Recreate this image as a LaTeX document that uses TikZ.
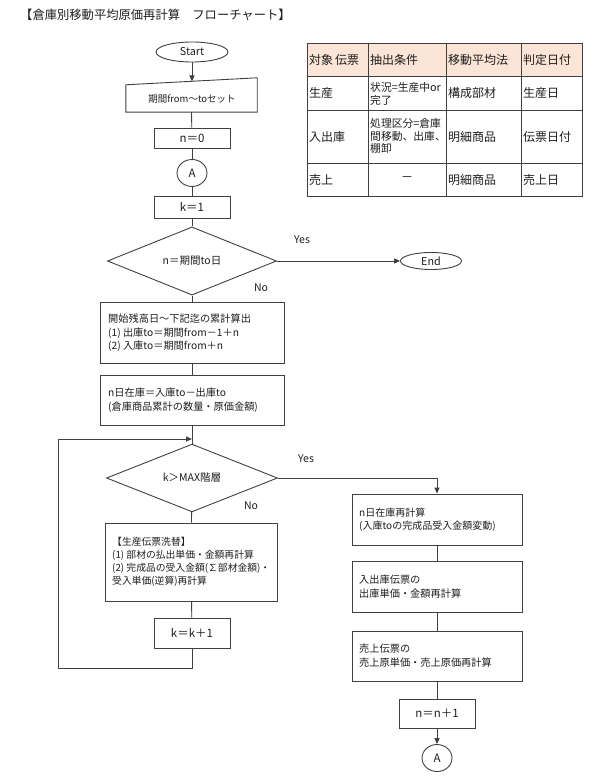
\documentclass[tikz,border=0pt]{standalone}
\usepackage{fontspec}
\setmainfont{Noto Sans CJK JP}
\usetikzlibrary{shapes.geometric,arrows.meta}
\definecolor{lc}{RGB}{64,64,64}
\definecolor{hdr}{RGB}{252,228,214}
\definecolor{tc}{RGB}{30,30,30}
\newcommand\myfs[2]{\fontsize{#1}{#2}\selectfont}
\begin{document}
\begin{tikzpicture}[x=1pt,y=-1pt,
  every node/.style={text=tc},
  ln/.style={draw=lc,line width=0.9pt},
  arr/.style={ln,-{Triangle[length=6pt,width=5pt]}},
  rbox/.style={ln,rectangle,inner sep=0pt,font=\myfs{11.5}{13}},
  term/.style={ln,ellipse,inner sep=0pt,font=\myfs{10.8}{12}},
  dec/.style={ln,diamond,inner sep=0pt,font=\myfs{10.5}{12}},
  txt/.style={anchor=west,align=left,inner sep=0pt,font=\myfs{10.2}{13.5}},
  lab/.style={inner sep=0pt,font=\myfs{10.5}{12}},
  tcell/.style={anchor=west,inner sep=0pt,font=\myfs{12}{14}},
  tcellm/.style={anchor=west,align=left,inner sep=0pt,font=\myfs{10.8}{12.5}}]
\useasboundingbox (0,0) rectangle (600,783);

% title
\node[anchor=west,inner sep=0pt,font=\myfs{12.3}{14}] (title) at (20,15) {【倉庫別移動平均原価再計算　フローチャート】};

% table
\fill[hdr] (307,43) rectangle (582,76);
\draw[ln] (307,43) rectangle (582,196);
\draw[ln] (307,76) -- (582,76) (307,110) -- (582,110) (307,163) -- (582,163);
\draw[ln] (368,43) -- (368,196) (446,43) -- (446,196) (521,43) -- (521,196);
\node[tcell] (h1) at (309,59.5) {対象\,伝票};
\node[tcell] (h2) at (370,59.5) {抽出条件};
\node[tcell] (h3) at (448,59.5) {移動平均法};
\node[tcell] (h4) at (523,59.5) {判定日付};
\node[tcell] (r11) at (309,93) {生産};
\node[tcellm] (r12) at (370,94) {状況=生産中or\\完了};
\node[tcell] (r13) at (448,93) {構成部材};
\node[tcell] (r14) at (523,93) {生産日};
\node[tcell] (r21) at (309,136.5) {入出庫};
\node[tcellm] (r22) at (370,136) {処理区分=倉庫\\間移動、出庫、\\棚卸};
\node[tcell] (r23) at (448,136.5) {明細商品};
\node[tcell] (r24) at (523,136.5) {伝票日付};
\node[tcell] (r31) at (309,179.5) {売上};
\node[inner sep=0pt,font=\myfs{12}{14}] (r32) at (407,179.5) {－};
\node[tcell] (r33) at (448,179.5) {明細商品};
\node[tcell] (r34) at (523,179.5) {売上日};

% flowchart left column
\node[term,minimum width=72pt,minimum height=20pt] (start) at (192,52) {Start};
\node[rectangle,inner sep=0pt,minimum width=131pt,minimum height=34pt] (input) at (191.5,95) {};
\draw[ln] (input.south west) -- (input.south east) -- (input.north east) -- ([yshift=-7pt]input.north west) -- cycle;
\node[inner sep=0pt,font=\myfs{9.5}{12}] (inputtxt) at (192,99) {期間from～toセット};
\coordinate (intop) at (192,81.5);
\node[rbox,minimum width=76pt,minimum height=20pt] (n0) at (192,138) {n＝0};
\node[term,minimum width=30pt,minimum height=27pt,font=\myfs{11.5}{13}] (A1) at (192,173) {A};
\node[rbox,minimum width=76pt,minimum height=22pt] (k1) at (192,207) {k＝1};
\node[dec,minimum width=169pt,minimum height=57pt] (d1) at (192,261) {n＝期間to日};
\node[term,minimum width=61pt,minimum height=17pt] (end) at (431,261) {End};
\node[lab] (yes1) at (302,240) {Yes};
\node[lab] (no1) at (261,288) {No};

\node[rbox,minimum width=184pt,minimum height=61pt] (box1) at (192,332.5) {};
\node[txt] (box1t) at (108,333) {開始残高日～下記迄の累計算出\\(1) 出庫to＝期間from－1＋n\\(2) 入庫to＝期間from＋n};
\node[rbox,minimum width=184pt,minimum height=50pt] (box2) at (192,400) {};
\node[txt] (box2t) at (108,400) {n日在庫＝入庫to－出庫to\\(倉庫商品累計の数量・原価金額)};

\node[dec,minimum width=171pt,minimum height=58pt] (d2) at (192,478) {k＞MAX階層};
\node[lab] (yes2) at (306,459) {Yes};
\node[lab] (no2) at (251,506) {No};

\node[rbox,minimum width=172pt,minimum height=78pt] (box3) at (191,562) {};
\node[txt,font=\myfs{9.8}{13}] (box3t) at (112,562) {【生産伝票洗替】\\(1) 部材の払出単価・金額再計算\\(2) 完成品の受入金額(∑部材金額)・\\受入単価(逆算)再計算};
\node[rbox,minimum width=76pt,minimum height=30pt] (kk) at (192,633) {k＝k＋1};

\coordinate (lp1) at (192,668);
\coordinate (lp2) at (58,668);
\coordinate (lp3) at (58,439);
\coordinate (lp4) at (192,439);

% right column
\node[rbox,minimum width=170pt,minimum height=51pt] (box4) at (437,519.5) {};
\node[txt,font=\myfs{10}{13}] (box4t) at (359,519.5) {n日在庫再計算\\(入庫toの完成品受入金額変動)};
\node[rbox,minimum width=170pt,minimum height=51pt] (box5) at (437,586.5) {};
\node[txt,font=\myfs{10.2}{14}] (box5t) at (359,586.5) {入出庫伝票の\\出庫単価・金額再計算};
\node[rbox,minimum width=170pt,minimum height=50pt] (box6) at (437,656) {};
\node[txt,font=\myfs{10.2}{14}] (box6t) at (359,656) {売上伝票の\\売上原単価・売上原価再計算};
\node[rbox,minimum width=76pt,minimum height=29pt] (nn) at (437,713.5) {n＝n＋1};
\node[term,minimum width=30pt,minimum height=27pt,font=\myfs{11.5}{13}] (A2) at (437,758) {A};

% connectors
\draw[arr] (start) -- (intop);
\draw[ln] (input.south) -- (n0);
\draw[ln] (n0) -- (A1);
\draw[ln] (A1) -- (k1);
\draw[ln] (k1) -- (d1);
\draw[arr] (d1.east) -- (end.west);
\draw[ln] (d1) -- (box1);
\draw[ln] (box1) -- (box2);
\draw[ln] (box2) -- (d2);
\draw[ln] (d2) -- (box3);
\draw[ln] (box3) -- (kk);
\draw[arr] (kk.south) -- (lp1) -- (lp2) -- (lp3) -- (lp4);
\draw[arr] (d2.east) -| (box4.north);
\draw[ln] (box4) -- (box5);
\draw[ln] (box5) -- (box6);
\draw[ln] (box6) -- (nn);
\draw[arr] (nn) -- (A2);
\end{tikzpicture}
\end{document}
